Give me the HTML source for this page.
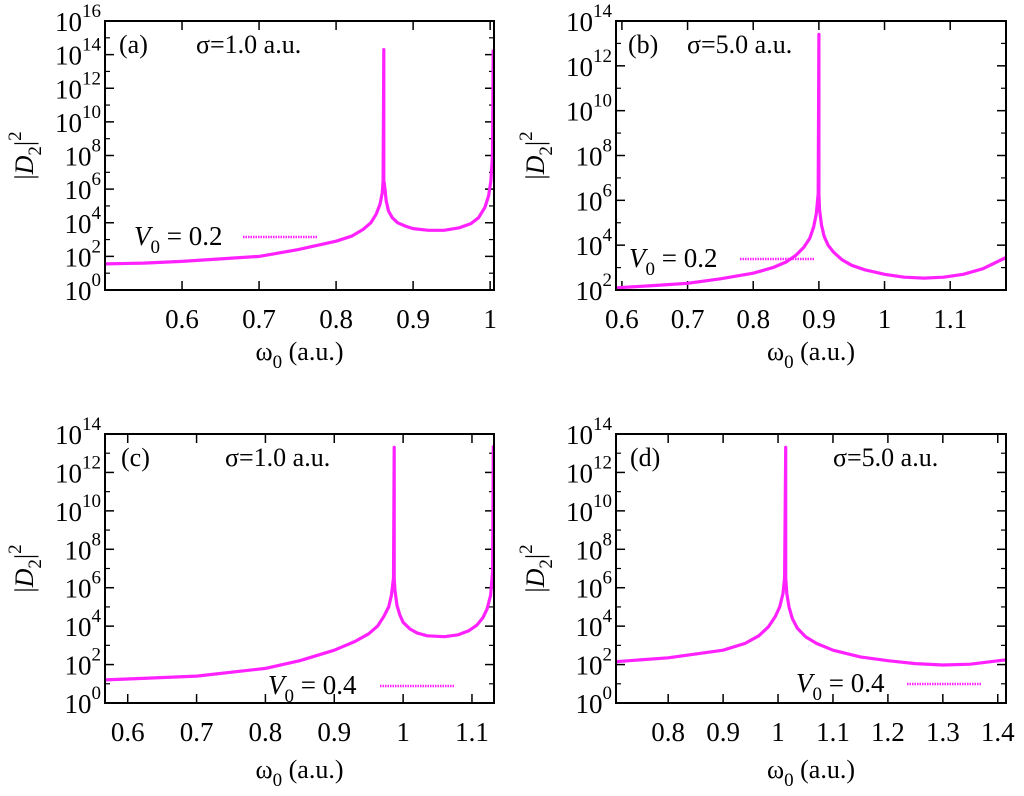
<!DOCTYPE html>
<html><head><meta charset="utf-8"><style>
html,body{margin:0;padding:0;background:#fff;}
#fig, #fig text, #fig tspan{font-family:"Liberation Serif","Times New Roman","DejaVu Serif",serif !important;}
</style></head><body>
<svg id="fig" width="1024" height="791" viewBox="0 0 1024 791" xmlns="http://www.w3.org/2000/svg"></svg>
<script>
// Panel (a) data: omega0 and log10 |D2|^2
const xA=[0.5,0.55,0.6,0.65,0.7,0.75,0.8,0.82,0.835,0.845,0.852,0.857,0.86,0.861,0.862,0.862,0.863,0.865,0.868,0.873,0.88,0.89,0.9,0.92,0.94,0.96,0.975,0.985,0.993,0.998,1.001,1.003,1.004];
const yA=[1.55,1.6,1.7,1.85,2.0,2.4,2.9,3.2,3.6,4.0,4.5,5.1,5.8,6.5,14.3,6.5,6.2,5.3,4.7,4.3,4.0,3.8,3.65,3.55,3.55,3.7,3.95,4.3,4.9,5.6,6.5,8,14.3];
// Panel (b)
const xB=[0.591,0.65,0.7,0.75,0.8,0.83,0.85,0.865,0.877,0.886,0.892,0.896,0.899,0.9,0.9,0.901,0.904,0.908,0.914,0.922,0.935,0.95,0.97,1.0,1.03,1.06,1.09,1.12,1.15,1.185];
const yB=[2.1,2.2,2.3,2.5,2.75,3.0,3.25,3.55,3.9,4.3,4.8,5.4,6.3,13.4,6.3,5.6,4.9,4.4,4.0,3.7,3.35,3.1,2.9,2.7,2.57,2.53,2.57,2.7,2.95,3.45];
// Panel (c)
const xC=[0.567,0.6,0.7,0.8,0.85,0.9,0.93,0.95,0.963,0.972,0.979,0.983,0.986,0.987,0.987,0.988,0.991,0.995,1.0,1.01,1.02,1.035,1.06,1.08,1.095,1.107,1.116,1.122,1.127,1.13,1.131];
const yC=[1.2,1.25,1.4,1.8,2.2,2.75,3.2,3.6,4.0,4.5,5.0,5.6,6.5,13.3,6.5,5.9,5.1,4.6,4.2,3.85,3.65,3.5,3.45,3.55,3.75,4.05,4.45,4.9,5.6,6.8,13.4];
// Panel (d)
const xD=[0.705,0.8,0.9,0.94,0.965,0.982,0.995,1.003,1.009,1.012,1.014,1.014,1.016,1.02,1.026,1.035,1.05,1.07,1.1,1.15,1.2,1.25,1.3,1.35,1.415];
const yD=[2.15,2.35,2.75,3.1,3.5,3.95,4.5,5.0,5.7,6.5,13.3,6.5,5.7,5.0,4.4,3.9,3.45,3.1,2.75,2.4,2.2,2.05,1.98,2.02,2.25];
// Tick labels
const xTicksA=[0.6,0.7,0.8,0.9,1];
const xTicksB=[0.6,0.7,0.8,0.9,1,1.1];
const xTicksC=[0.6,0.7,0.8,0.9,1,1.1];
const xTicksD=[0.8,0.9,1,1.1,1.2,1.3,1.4];
const yTicksA=[0,2,4,6,8,10,12,14,16];
const yTicksB=[2,4,6,8,10,12,14];
const yTicksC=[0,2,4,6,8,10,12,14];
const yTicksD=[0,2,4,6,8,10,12,14];

const NS="http://www.w3.org/2000/svg";
const svg=document.getElementById('fig');
const FF='"Liberation Serif","Times New Roman","DejaVu Serif",serif';
function mk(tag,attrs,parent){const e=document.createElementNS(NS,tag);for(const k in attrs)e.setAttribute(k,attrs[k]);if(tag==='text'){e.style.fontFamily=FF;}(parent||svg).appendChild(e);return e;}

const panels=[
 {id:'a',L:105,R:494,T:21,B:290,x0:0.5,x1:1.005,y0:0,y1:16,xs:xA,ys:yA,xt:xTicksA,yt:yTicksA,tag:'(a)',tagX:119,sig:'σ=1.0 a.u.',sigX:196,v:'0.2',vX:134,vY:245,lx1:243,lx2:318,ly:237,xlY:360},
 {id:'b',L:616,R:1006,T:21,B:290,x0:0.591,x1:1.185,y0:2,y1:14,xs:xB,ys:yB,xt:xTicksB,yt:yTicksB,tag:'(b)',tagX:628,sig:'σ=5.0 a.u.',sigX:687,v:'0.2',vX:629,vY:267,lx1:740,lx2:815,ly:259,xlY:360},
 {id:'c',L:105,R:494,T:434,B:703,x0:0.567,x1:1.132,y0:0,y1:14,xs:xC,ys:yC,xt:xTicksC,yt:yTicksC,tag:'(c)',tagX:121,sig:'σ=1.0 a.u.',sigX:225,v:'0.4',vX:268,vY:694,lx1:380,lx2:455,ly:686,xlY:778},
 {id:'d',L:616,R:1006,T:434,B:703,x0:0.705,x1:1.415,y0:0,y1:14,xs:xD,ys:yD,xt:xTicksD,yt:yTicksD,tag:'(d)',tagX:630,sig:'σ=5.0 a.u.',sigX:833,v:'0.4',vX:796,vY:692,lx1:907,lx2:982,ly:684,xlY:778}
];

panels.forEach(p=>{
 const g=mk('g',{});
 
 
 const sx=v=>p.L+(v-p.x0)/(p.x1-p.x0)*(p.R-p.L);
 const sy=v=>p.B-(v-p.y0)/(p.y1-p.y0)*(p.B-p.T);
 p.yt.forEach(t=>{
  const y=sy(t);
  const l1=mk('line',{x1:p.L,x2:p.L+9,y1:y,y2:y,stroke:'#000','stroke-width':1.5},g);
  
  
  mk('line',{x1:p.R,x2:p.R-9,y1:y,y2:y,stroke:'#000','stroke-width':1.5},g);
  if(t<p.y1){const ym=sy(t+1);
   mk('line',{x1:p.L,x2:p.L+5,y1:ym,y2:ym,stroke:'#000','stroke-width':1.2},g);
   mk('line',{x1:p.R,x2:p.R-5,y1:ym,y2:ym,stroke:'#000','stroke-width':1.2},g);}
  const tx=mk('text',{x:p.L-4,y:y+10,'text-anchor':'end','font-size':27},g);
  
  
  tx.textContent='10';
  const sp=mk('tspan',{dy:-14,'font-size':19},tx); sp.textContent=String(t);
 });
 p.xt.forEach(t=>{
  const x=sx(t);
  mk('line',{x1:x,x2:x,y1:p.B,y2:p.B-9,stroke:'#000','stroke-width':1.5},g);
  mk('line',{x1:x,x2:x,y1:p.T,y2:p.T+9,stroke:'#000','stroke-width':1.5},g);
  const tx=mk('text',{x:x,y:p.B+38,'text-anchor':'middle','font-size':27},g);
  
  
  tx.textContent=String(t);
 });
 const pts=p.xs.map((x,i)=>sx(x).toFixed(1)+','+sy(p.ys[i]).toFixed(1)).join(' ');
 const c=mk('polyline',{points:pts,fill:'none',stroke:'#ff22ff','stroke-width':3.2,'stroke-linejoin':'round'},g);
 
 
 const fr=mk('rect',{x:p.L,y:p.T,width:p.R-p.L,height:p.B-p.T,fill:'none',stroke:'#000','stroke-width':2},g);
 
 
 const tg=mk('text',{x:p.tagX,y:p.T+32,'font-size':26},g);
 
 
 tg.textContent=p.tag;
 const sg=mk('text',{x:p.sigX,y:p.T+32,'font-size':26},g);
 
 
 sg.textContent=p.sig;
 const lg=mk('text',{x:p.vX,y:p.vY,'font-size':27},g);
 
 
 const t1=mk('tspan',{'font-style':'italic'},lg); t1.textContent='V';
 const t2=mk('tspan',{dy:8,'font-size':19},lg); t2.textContent='0';
 const t3=mk('tspan',{dy:-8},lg); t3.textContent=' = '+p.v;
 const ll=mk('line',{x1:p.lx1,x2:p.lx2,y1:p.ly,y2:p.ly,stroke:'#ff22ff','stroke-width':2.5,'stroke-dasharray':'1.5,1'},g);
 
 
 const xl=mk('text',{x:(p.L+p.R)/2,y:p.xlY,'text-anchor':'middle','font-size':26},g);
 
 
 const a1=mk('tspan',{},xl); a1.textContent='ω';
 const a2=mk('tspan',{dy:8,'font-size':19},xl); a2.textContent='0';
 const a3=mk('tspan',{dy:-8},xl); a3.textContent=' (a.u.)';
 const yc=(p.T+p.B)/2, xx=p.L-72;
 const yl=mk('text',{x:0,y:0,'text-anchor':'middle','font-size':26,transform:`translate(${xx},${yc}) rotate(-90)`},g);
 
 
 const b1=mk('tspan',{},yl); b1.textContent='|';
 const b2=mk('tspan',{'font-style':'italic'},yl); b2.textContent='D';
 const b3=mk('tspan',{dy:8,'font-size':19},yl); b3.textContent='2';
 const b4=mk('tspan',{dy:-8},yl); b4.textContent='|';
 const b5=mk('tspan',{dy:-12,'font-size':19},yl); b5.textContent='2';
});
</script>
</body></html>
